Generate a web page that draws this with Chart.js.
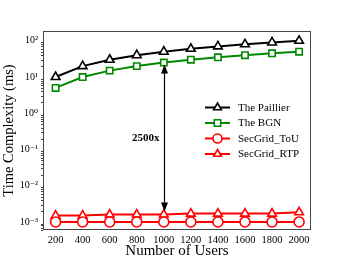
<!DOCTYPE html>
<html><head><meta charset="utf-8">
<script src="https://cdn.jsdelivr.net/npm/chart.js@4/dist/chart.umd.min.js"></script>
<style>html,body{margin:0;padding:0;background:#fff}#c{display:block}</style>
</head><body>
<div style="width:346px;height:260px"><canvas id="c" width="346" height="260"></canvas></div>
<script>
const users = [200,400,600,800,1000,1200,1400,1600,1800,2000];
const paillier = [10,20,30,40,50,60,70,80,90,100];
const bgn = [5,10,15,20,25,30,35,40,45,50];
const tou = [0.001,0.001,0.001,0.001,0.001,0.001,0.001,0.001,0.001,0.001];
const rtp = [0.0015,0.0015,0.0016,0.0016,0.0016,0.0017,0.0017,0.0017,0.0017,0.00185];
const yTicks = [1e-3,1e-2,1e-1,1e0,1e1,1e2];
const yTickLabels = ['10\u207B\u00B3','10\u207B\u00B2','10\u207B\u00B9','10\u2070','10\u00B9','10\u00B2'];
const arrowFrom = 22, arrowTo = 0.00195, arrowX = 1000, arrowLabel = '2500x', arrowLabelY = 0.2;

const serif = "'Liberation Serif', 'DejaVu Serif', serif";
const pts = a => a.map((v,i)=>({x:users[i], y:v}));
function ds(label, data, color, style){
  return {label, data: pts(data), borderColor: color, backgroundColor:'#fff',
    pointStyle: style, pointRadius: style==='rect'?4.5:5, pointBorderWidth:1.6, borderWidth:2, pointBackgroundColor:'#fff', tension:0};
}
const extras = {
  id:'extras',
  afterDraw(chart){
    const {ctx, chartArea:a, scales:{x,y}} = chart;
    ctx.save();
    ctx.strokeStyle='#444'; ctx.lineWidth=1;
    ctx.strokeRect(a.left+0.5, a.top+0.5, a.right-a.left-1, a.bottom-a.top-1);
    ctx.beginPath();
    for(let e=-4;e<=2;e++){for(let m=2;m<=9;m++){const v=m*Math.pow(10,e);const py=y.getPixelForValue(v);
      if(py>=a.top && py<=a.bottom){ctx.moveTo(a.left,Math.round(py)+0.5);ctx.lineTo(a.left-2,Math.round(py)+0.5);}}}
    ctx.stroke();
    const ax = Math.round(x.getPixelForValue(arrowX))+0.5;
    const y1 = y.getPixelForValue(arrowFrom), y2 = y.getPixelForValue(arrowTo);
    ctx.strokeStyle='#000'; ctx.fillStyle='#000'; ctx.lineWidth=1.2;
    ctx.beginPath(); ctx.moveTo(ax,y1+6); ctx.lineTo(ax,y2-6); ctx.stroke();
    ctx.beginPath(); ctx.moveTo(ax,y1); ctx.lineTo(ax-3.5,y1+9); ctx.lineTo(ax+3.5,y1+9); ctx.closePath(); ctx.fill();
    ctx.beginPath(); ctx.moveTo(ax,y2); ctx.lineTo(ax-3.5,y2-9); ctx.lineTo(ax+3.5,y2-9); ctx.closePath(); ctx.fill();
    ctx.font = "bold 11px "+serif; ctx.textAlign='right'; ctx.textBaseline='middle';
    ctx.fillText(arrowLabel, ax-5, y.getPixelForValue(arrowLabelY));
    const lx = 205, tx = 238; let ly = 107.5;
    ctx.font = "11px "+serif; ctx.textAlign='left';
    chart.data.datasets.forEach(d=>{
      ctx.strokeStyle=d.borderColor; ctx.lineWidth=2;
      ctx.beginPath(); ctx.moveTo(lx,ly); ctx.lineTo(lx+25,ly); ctx.stroke();
      ctx.lineWidth=1.6; ctx.fillStyle='#fff';
      Chart.helpers.drawPoint(ctx,{pointStyle:d.pointStyle, radius:4.5, rotation:0, borderWidth:1.6}, lx+12.5, ly);
      ctx.fillStyle='#000'; ctx.fillText(d.label, tx, ly+0.5);
      ly += 15.5;
    });
    ctx.restore();
  }
};
new Chart(document.getElementById('c'), {
  type:'line',
  data:{datasets:[
    ds('The Paillier', paillier, '#000000', 'triangle'),
    ds('The BGN', bgn, '#008800', 'rect'),
    ds('SecGrid_ToU', tou, '#ff0000', 'circle'),
    ds('SecGrid_RTP', rtp, '#ff0000', 'triangle')
  ]},
  options:{
    responsive:false, animation:false, devicePixelRatio:1,
    layout:{padding:{top:31,right:35,left:0,bottom:0}},
    plugins:{legend:{display:false}, tooltip:{enabled:false}},
    scales:{
      x:{type:'linear', min:107, max:2088,
        afterBuildTicks(s){ s.ticks = users.map(v=>({value:v})); },
        afterFit(s){ s.height = 30; },
        grid:{display:false, drawTicks:true, tickLength:3, tickColor:'#444'},
        border:{display:false},
        ticks:{color:'#000', font:{family:serif,size:10.5}, padding:1, maxRotation:0, autoSkip:false,
          callback:(v)=>String(v)},
        title:{display:true, text:'Number of Users', color:'#000', font:{family:serif,size:15}, padding:{top:-3,bottom:0}}
      },
      y:{type:'logarithmic', min:Math.pow(10,-3.21), max:Math.pow(10,2.27),
        afterBuildTicks(s){ s.ticks = yTicks.map(v=>({value:v})); },
        afterFit(s){ s.width = 43; },
        grid:{display:false, drawTicks:true, tickLength:3, tickColor:'#444'},
        border:{display:false},
        ticks:{color:'#000', font:{family:serif,size:10}, padding:2, autoSkip:false,
          callback:(v)=>{const i=yTicks.findIndex(t=>Math.abs(t-v)/t<1e-6); return i>=0?yTickLabels[i]:'';}},
        title:{display:true, text:'Time Complexity (ms)', color:'#000', font:{family:serif,size:14.5}, padding:{top:0,bottom:1}}
      }
    }
  },
  plugins:[extras]
});
</script>
</body></html>
